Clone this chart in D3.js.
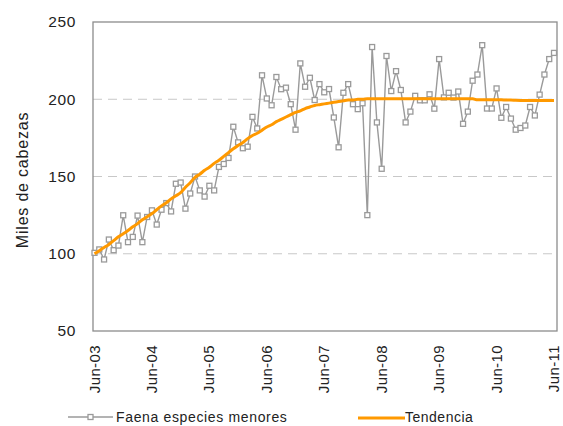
<!DOCTYPE html>
<html><head><meta charset="utf-8">
<script src="https://cdn.jsdelivr.net/npm/d3@7"></script>
<style>body{margin:0;background:#fff}svg{display:block}</style>
</head><body>
<script>
const months = [];
const yrs = ["03","04","05","06","07","08","09","10","11"];
const mNames = ["Jun","Jul","Aug","Sep","Oct","Nov","Dec","Jan","Feb","Mar","Apr","May"];
const startYear = 2003;
for (let i = 0; i < 97; i++) {
  const m = (5 + i) % 12;
  const y = startYear + Math.floor((5 + i) / 12);
  months.push(y + "-" + String(m + 1).padStart(2, "0"));
}
const tickLabels = ["Jun-03","Jun-04","Jun-05","Jun-06","Jun-07","Jun-08","Jun-09","Jun-10","Jun-11"];
const faena = [100.6,102.8,96.3,109.2,102.3,105.3,124.9,107.5,110.9,124.7,107.5,123.8,128.1,118.9,128.5,132.8,127.4,145.3,146.1,129.2,
  139,150,141,137,144,141,156.2,158.1,162,182.2,172.1,168.3,169.3,188.6,181.1,215.5,200.5,196.1,214.4,206.5,
  207.5,196.8,180.3,223.2,208.1,213.9,199.5,209.8,204.5,206.6,188.2,168.9,204.2,209.8,196.8,193.6,197.4,125,233.8,185,
  155,228,205.3,218.2,206,185,192,202.2,199.3,199.3,203.2,193.9,226,201.2,204.2,201.1,205,184.1,192,212,
  216,235,194,194,207,188,195,187.5,180.3,181.4,183,195,189.5,203,216,226,230];
const tendencia = [100,102,104,106,108.5,111,113,115,117.5,119.5,122,124,126,128.5,131,133,135.5,137.5,139.5,143,
  146,149.5,151.5,154,156,158.5,160.5,163,165.5,168,170,172,174.5,176.5,178,180,182,183.5,185.5,187,
  188.5,190,191.5,192.5,194,195,196,196.5,197,197.5,198,198.5,199,199.5,199.5,200,200,200.3,200.3,200.3,
  200.3,200.3,200.3,200.3,200.3,200.3,200.3,200.3,200.3,200.3,200.3,200.3,200.3,200.3,200.3,200.3,200.3,200.3,200.3,200.3,
  199.6,199.6,199.6,199.6,199.6,199.6,199.5,199.5,199.3,199.2,199.2,199.2,199.2,199.2,199.2,199.2,199.2];
const yTicks = [50,100,150,200,250];

const W = 563, H = 426;
const L = 93, R = 557, T = 22, B = 331;
const svg = d3.select("body").append("svg").attr("width", W).attr("height", H);

const x = d3.scalePoint().domain(months).range([94.5, 554]);
const y = d3.scaleLinear().domain([50, 250]).range([B, T]);

// gridlines
svg.append("g").selectAll("line").data([100,150,200]).join("line")
  .attr("x1", L).attr("x2", R).attr("y1", d => y(d)).attr("y2", d => y(d))
  .attr("stroke", "#c8c8c8").attr("stroke-width", 1).attr("stroke-dasharray", "9,6");

// frame
svg.append("rect").attr("x", L).attr("y", T).attr("width", R - L).attr("height", B - T)
  .attr("fill", "none").attr("stroke", "#8c8c8c").attr("stroke-width", 1.3);

// y axis labels
const yAxis = d3.axisLeft(y).tickValues(yTicks).tickSize(0).tickPadding(17);
const gy = svg.append("g").attr("transform", `translate(${L},0)`).call(yAxis);
gy.select(".domain").remove();
gy.selectAll("text").attr("font-family", "Liberation Sans, Arial, sans-serif")
  .attr("font-size", 15.5).attr("letter-spacing", 0.6).attr("fill", "#222");

// x axis labels
const tickMonths = tickLabels.map((t, k) => months[k * 12]);
const xAxis = d3.axisBottom(x).tickValues(tickMonths).tickSize(0)
  .tickFormat((d, k) => tickLabels[k]);
const gx = svg.append("g").attr("transform", `translate(0,${B})`).call(xAxis);
gx.select(".domain").remove();
gx.selectAll("text")
  .attr("font-family", "Liberation Sans, Arial, sans-serif").attr("font-size", 15)
  .attr("letter-spacing", 0.4).attr("fill", "#222")
  .attr("text-anchor", "end").attr("dy", null).attr("y", 0)
  .attr("transform", "translate(-1,14) rotate(-90)")
  .attr("dominant-baseline", "central");

// y title
svg.append("text").attr("transform", `translate(22,180) rotate(-90)`)
  .attr("text-anchor", "middle").attr("dominant-baseline", "central")
  .attr("font-family", "Liberation Sans, Arial, sans-serif").attr("font-size", 16)
  .attr("letter-spacing", 0.8).attr("fill", "#222").text("Miles de cabezas");

// faena line
const line = d3.line().x((d, i) => x(months[i])).y(d => y(d));
svg.append("path").datum(faena).attr("d", line).attr("fill", "none")
  .attr("stroke", "#9a9a9a").attr("stroke-width", 1.4);
svg.append("g").selectAll("rect").data(faena).join("rect")
  .attr("x", (d, i) => x(months[i]) - 2.5).attr("y", d => y(d) - 2.5)
  .attr("width", 5).attr("height", 5).attr("fill", "#fff")
  .attr("stroke", "#9a9a9a").attr("stroke-width", 1.3);

// trend line
svg.append("path").datum(tendencia).attr("d", line.curve(d3.curveMonotoneX)).attr("fill", "none")
  .attr("stroke", "#FF9900").attr("stroke-width", 3);

// legend
const lg = svg.append("g").attr("font-family", "Liberation Sans, Arial, sans-serif")
  .attr("font-size", 14).attr("fill", "#222");
lg.append("line").attr("x1", 68).attr("x2", 113).attr("y1", 417).attr("y2", 417)
  .attr("stroke", "#9a9a9a").attr("stroke-width", 1.4);
lg.append("rect").attr("x", 88).attr("y", 414.5).attr("width", 5).attr("height", 5)
  .attr("fill", "#fff").attr("stroke", "#9a9a9a").attr("stroke-width", 1.3);
lg.append("text").attr("x", 116).attr("y", 417).attr("dominant-baseline", "central")
  .attr("letter-spacing", 0.65).text("Faena especies menores");
lg.append("line").attr("x1", 358).attr("x2", 405).attr("y1", 418).attr("y2", 418)
  .attr("stroke", "#FF9900").attr("stroke-width", 3);
lg.append("text").attr("x", 405).attr("y", 417).attr("dominant-baseline", "central")
  .attr("letter-spacing", 0.5).text("Tendencia");
</script>
</body></html>
